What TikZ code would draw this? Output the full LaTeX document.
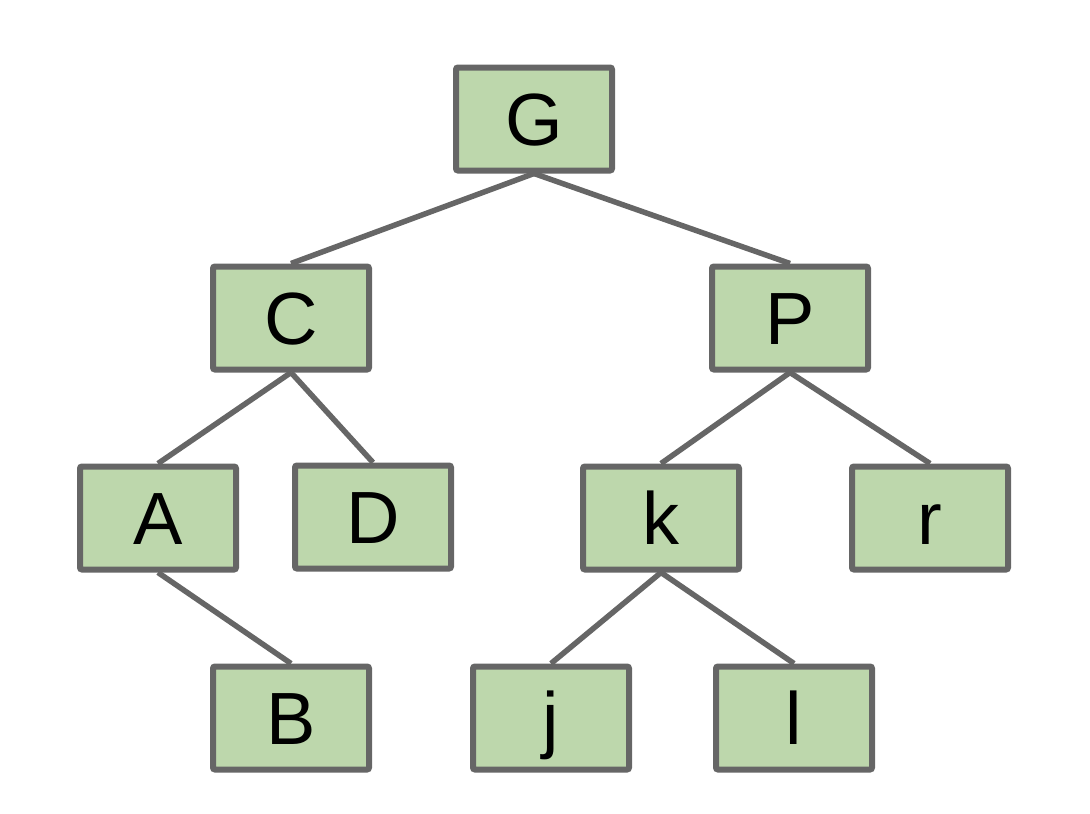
\documentclass[tikz,border=0pt]{standalone}
\usepackage{fontspec}
\setmainfont{Liberation Sans}
\begin{document}
\definecolor{boxfill}{RGB}{189,215,172}
\definecolor{boxline}{RGB}{102,102,102}
\begin{tikzpicture}[x=1pt,y=-1pt,
  treenode/.style={draw=boxline, fill=boxfill, line width=6pt, rounded corners=2pt,
    minimum width=156pt, minimum height=103pt, inner sep=0pt,
    font=\fontsize{74}{74}\selectfont, text height=53pt, text depth=0pt},
  branch/.style={draw=boxline, line width=5.5pt}]
\useasboundingbox (0,0) rectangle (1090,814);
% tree nodes
\node[treenode] (G) at (534,119) {G};
\node[treenode] (C) at (291,318) {C};
\node[treenode] (P) at (790,318) {P};
\node[treenode] (A) at (158,518) {A};
\node[treenode] (D) at (373,517) {D};
\node[treenode] (k) at (661,518) {k};
\node[treenode] (r) at (930,518) {r};
\node[treenode] (B) at (291,718) {B};
\node[treenode] (j) at (551,718) {j};
\node[treenode] (l) at (794,718) {l};
% parent-child links
\draw[branch] (G.south) -- (C.north);
\draw[branch] (G.south) -- (P.north);
\draw[branch] (C.south) -- (A.north);
\draw[branch] (C.south) -- (D.north);
\draw[branch] (A.south) -- (B.north);
\draw[branch] (P.south) -- (k.north);
\draw[branch] (P.south) -- (r.north);
\draw[branch] (k.south) -- (j.north);
\draw[branch] (k.south) -- (l.north);
\end{tikzpicture}
\end{document}
